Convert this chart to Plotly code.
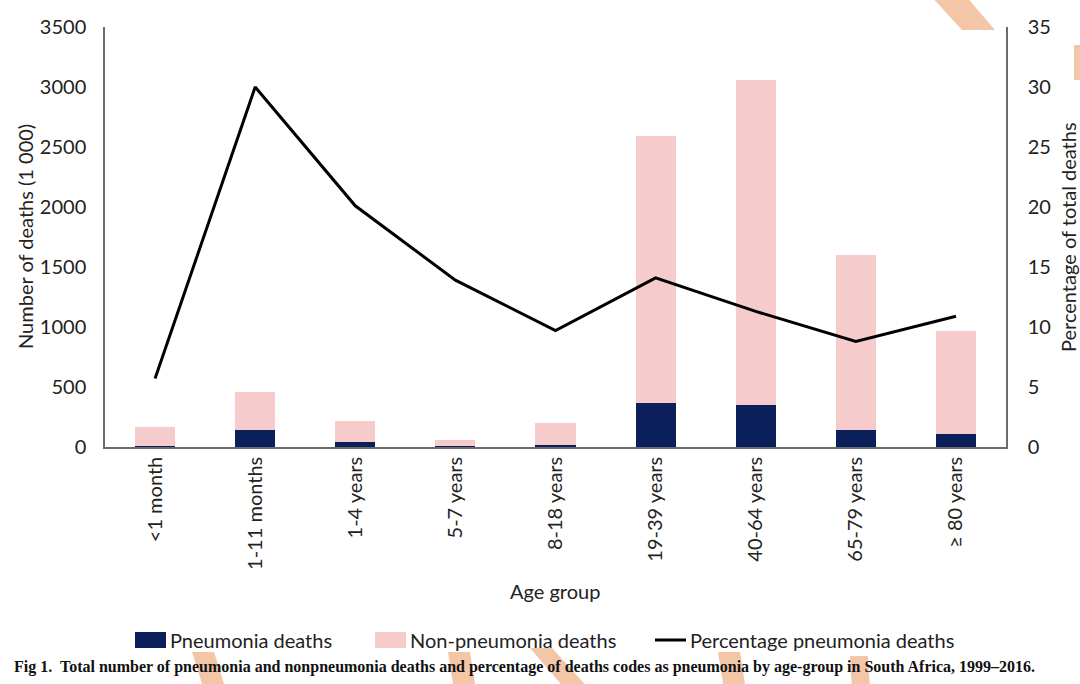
import plotly.graph_objects as go

age_groups = ["<1 month", "1-11 months", "1-4 years", "5-7 years", "8-18 years",
              "19-39 years", "40-64 years", "65-79 years", "≥ 80 years"]
pneumonia_deaths = [9, 138, 44, 8, 20, 364, 347, 139, 106]
non_pneumonia_deaths = [158, 320, 175, 48, 183, 2228, 2711, 1461, 861]
percentage_pneumonia = [5.7, 30.0, 20.1, 13.9, 9.7, 14.1, 11.3, 8.8, 10.9]
left_ticks = [0, 500, 1000, 1500, 2000, 2500, 3000, 3500]
right_ticks = [0, 5, 10, 15, 20, 25, 30, 35]
series_names = ["Pneumonia deaths", "Non-pneumonia deaths", "Percentage pneumonia deaths"]

NAVY = "#0b1f5b"
PINK = "#f5cccb"
AXIS = "#6b6b6b"
FONT = "Lato"
TXT = "#222222"
WM = "#f2c6a6"
FS = 20

fig = go.Figure()
fig.add_trace(go.Bar(x=age_groups, y=pneumonia_deaths, name=series_names[0],
                     marker=dict(color=NAVY, line=dict(width=0))))
fig.add_trace(go.Bar(x=age_groups, y=non_pneumonia_deaths, name=series_names[1],
                     marker=dict(color=PINK, line=dict(width=0))))
fig.add_trace(go.Scatter(x=age_groups, y=percentage_pneumonia, name=series_names[2],
                         mode="lines", line=dict(color="black", width=3), yaxis="y2"))


def px2paper(x, y):
    return (x - 105) / 901, (447 - y) / 420


# faint watermark strokes
wm_polys = [
    [(930, -5), (965, -5), (995, 30), (962, 30)],
    [(1074, 45), (1085, 45), (1085, 80), (1074, 80)],
    [(192, 652), (214, 652), (226, 690), (204, 690)],
    [(448, 652), (470, 652), (476, 690), (454, 690)],
    [(530, 648), (552, 648), (590, 690), (566, 690)],
    [(718, 652), (740, 652), (746, 690), (724, 690)],
    [(850, 656), (868, 656), (870, 690), (852, 690)],
]
shapes = []
for poly in wm_polys:
    pts = [px2paper(x, y) for x, y in poly]
    path = "M " + " L ".join(f"{a:.4f},{b:.4f}" for a, b in pts) + " Z"
    shapes.append(dict(type="path", xref="paper", yref="paper", path=path,
                       fillcolor=WM, line=dict(width=0), layer="below"))

# custom legend (swatches + labels)
LEG_Y = 640
legend_items = [(135, "rect", NAVY), (375, "rect", PINK), (655, "line", "black")]
annotations = []
for (x0, kind, col), name in zip(legend_items, series_names):
    if kind == "rect":
        a0, b0 = px2paper(x0, LEG_Y + 8)
        a1, b1 = px2paper(x0 + 31, LEG_Y - 8)
        shapes.append(dict(type="rect", xref="paper", yref="paper", x0=a0, y0=b0, x1=a1, y1=b1,
                           fillcolor=col, line=dict(width=0)))
    else:
        a0, b0 = px2paper(x0, LEG_Y)
        a1, _ = px2paper(x0 + 31, LEG_Y)
        shapes.append(dict(type="line", xref="paper", yref="paper", x0=a0, y0=b0, x1=a1, y1=b0,
                           line=dict(color=col, width=3)))
    tx, ty = px2paper(x0 + 33, LEG_Y)
    annotations.append(dict(text=name, xref="paper", yref="paper", x=tx, y=ty,
                            showarrow=False, xanchor="left", yanchor="middle",
                            font=dict(family=FONT, size=FS, color=TXT)))

annotations += [
    dict(text="Number of deaths (1 000)", xref="paper", yref="paper",
         x=(25 - 105) / 901, y=(447 - 237) / 420, textangle=-90, showarrow=False,
         font=dict(family=FONT, size=FS, color=TXT), xanchor="center", yanchor="middle"),
    dict(text="Percentage of total deaths", xref="paper", yref="paper",
         x=(1068 - 105) / 901, y=(447 - 237) / 420, textangle=-90, showarrow=False,
         font=dict(family=FONT, size=FS, color=TXT), xanchor="center", yanchor="middle"),
    dict(text="Age group", xref="paper", yref="paper",
         x=(555 - 105) / 901, y=(447 - 591) / 420, showarrow=False,
         font=dict(family=FONT, size=FS, color=TXT), xanchor="center", yanchor="middle"),
    dict(text="<b>Fig 1.  Total number of pneumonia and nonpneumonia deaths and percentage of deaths codes as pneumonia by age-group in South Africa, 1999–2016.</b>",
         xref="paper", yref="paper", x=(12 - 105) / 901, y=(447 - 667) / 420,
         showarrow=False, xanchor="left", yanchor="middle",
         font=dict(family="Liberation Serif", size=16, color="#111111")),
]

fig.update_layout(
    width=1080, height=684,
    margin=dict(l=105, r=74, t=27, b=237),
    paper_bgcolor="white", plot_bgcolor="white",
    barmode="stack", bargap=0.6,
    font=dict(family=FONT, size=FS, color=TXT),
    showlegend=False,
    xaxis=dict(showline=True, linecolor=AXIS, linewidth=1.5, tickangle=-90,
               ticks="", showgrid=False, tickfont=dict(family=FONT, size=FS, color=TXT)),
    yaxis=dict(range=[0, 3500], tickvals=left_ticks, showline=True, linecolor=AXIS,
               linewidth=1.5, ticks="", showgrid=False, zeroline=False,
               tickfont=dict(family=FONT, size=FS, color=TXT), ticklabelstandoff=13),
    yaxis2=dict(range=[0, 35], tickvals=right_ticks, overlaying="y", side="right",
                showline=True, linecolor=AXIS, linewidth=1.5, ticks="", showgrid=False,
                zeroline=False, tickfont=dict(family=FONT, size=FS, color=TXT),
                ticklabelstandoff=16),
    shapes=shapes,
    annotations=annotations,
)

fig.write_html("out.html")
